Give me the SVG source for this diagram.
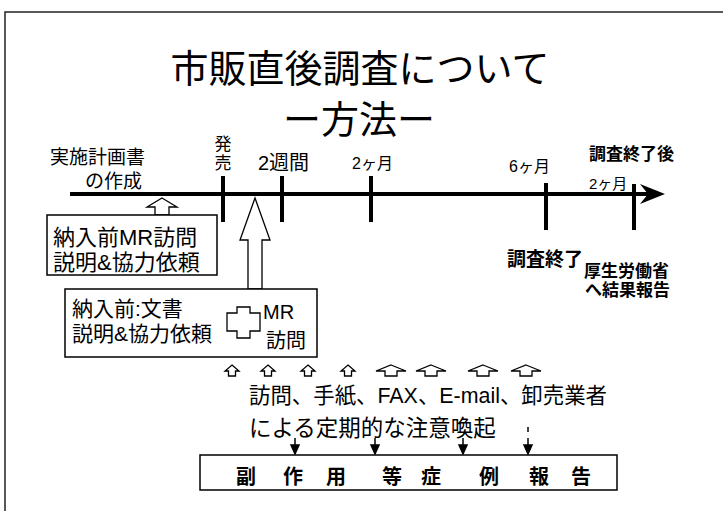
<svg xmlns="http://www.w3.org/2000/svg" width="723" height="511" viewBox="0 0 723 511">
<style>
text{font-family:"Liberation Sans","Noto Sans CJK JP",sans-serif;fill:#000}
.t{font-size:38px;text-anchor:middle}
.b{font-weight:bold}
.box{fill:#fff;stroke:#000;stroke-width:1.5}
.hol{fill:#fff;stroke:#000;stroke-width:1.3;stroke-linejoin:miter}
.tick{stroke:#000;stroke-width:4}
</style>
<defs>
<path id="ua" d="M0,0 L7,6 L3.5,6 L3.5,11 L-3.5,11 L-3.5,6 L-7,6 Z"/>
<path id="uaw" d="M0,0 L15,6 L6,6 L6,11 L-6,11 L-6,6 L-15,6 Z"/>
<path id="da" d="M0,0 L0,8 M-4,7 L4,7 L0,16 Z"/>
</defs>
<g id="frame" fill="none" stroke="#222" stroke-width="1.5">
<path d="M5,511 L5,12 L723,12"/>
</g>
<g id="title">
<text class="t" x="360" y="82">市販直後調査について</text>
<text class="t" x="359" y="133">ー方法ー</text>
</g>
<g id="timeline">
<line class="tick" x1="70" y1="194" x2="648" y2="194"/>
<path d="M665,194 L640,184 L648,194 L640,204 Z" fill="#000"/>
<line class="tick" x1="223" y1="176" x2="223" y2="222"/>
<line class="tick" x1="282" y1="176" x2="282" y2="222"/>
<line class="tick" x1="371" y1="176" x2="371" y2="222"/>
<line class="tick" x1="546" y1="183" x2="546" y2="230"/>
<line class="tick" x1="634" y1="184" x2="634" y2="230"/>
</g>
<g id="labels">
<text x="50" y="164" font-size="19">実施計画書</text>
<text x="85" y="188" font-size="19">の作成</text>
<text x="223" y="150" font-size="17" text-anchor="middle">発</text>
<text x="223" y="169" font-size="17" text-anchor="middle">売</text>
<text x="258" y="170" font-size="20">2週間</text>
<text x="352" y="169" font-size="16">2ヶ月</text>
<text x="509" y="172" font-size="16">6ヶ月</text>
<text x="589" y="160" font-size="17" class="b">調査終了後</text>
<text x="589" y="189" font-size="15">2ヶ月</text>
<text x="507" y="266" font-size="19" class="b">調査終了</text>
<text x="584" y="277" font-size="17" class="b">厚生労働省</text>
<text x="585" y="296" font-size="17" class="b">へ結果報告</text>
</g>
<g id="box1">
<path class="hol" d="M162,198 L177,207 L169,207 L169,215 L155,215 L155,207 L147,207 Z"/>
<rect class="box" x="47" y="215" width="170" height="60"/>
<text x="53" y="245" font-size="22">納入前MR訪問</text>
<text x="53" y="270" font-size="22">説明&amp;協力依頼</text>
</g>
<g id="bigarrow">
<path class="hol" d="M255,198 L270,240 L262,240 L262,289 L248,289 L248,240 L240,240 Z"/>
</g>
<g id="box2">
<rect class="box" x="65" y="289" width="252" height="68"/>
<text x="72" y="316" font-size="21">納入前:文書</text>
<text x="72" y="341" font-size="21">説明&amp;協力依頼</text>
<path class="hol" d="M237,307 L250,307 L250,313 L260,313 L260,331 L250,331 L250,338 L237,338 L237,331 L227,331 L227,313 L237,313 Z"/>
<text x="263" y="319" font-size="20">MR</text>
<text x="266" y="348" font-size="20">訪問</text>
</g>
<g id="uparrows" class="hol">
<use href="#ua" x="232" y="365"/>
<use href="#ua" x="268" y="365"/>
<use href="#ua" x="308" y="365"/>
<use href="#ua" x="348" y="365"/>
<use href="#uaw" x="391" y="365"/>
<use href="#uaw" x="431" y="365"/>
<use href="#uaw" x="483" y="365"/>
<use href="#uaw" x="526" y="365"/>
</g>
<g id="methods">
<text x="249" y="403" font-size="22" textLength="358" lengthAdjust="spacingAndGlyphs">訪問、手紙、FAX、E-mail、卸売業者</text>
<text x="249" y="436" font-size="22.5">による定期的な注意喚起</text>
</g>
<g id="connectors" stroke="#000" stroke-width="1.5" fill="#000">
<use href="#da" x="295" y="438"/>
<use href="#da" x="375" y="438"/>
<use href="#da" x="463" y="438"/>
<use href="#da" x="528" y="438"/>
<line x1="528" y1="427" x2="528" y2="432"/>
</g>
<g id="box3">
<rect class="box" x="200" y="455" width="417" height="35"/>
<g font-size="20" class="b" text-anchor="middle">
<text x="246" y="484" class="b">副</text>
<text x="293" y="484" class="b">作</text>
<text x="336" y="484" class="b">用</text>
<text x="392" y="484" class="b">等</text>
<text x="431" y="484" class="b">症</text>
<text x="489" y="484" class="b">例</text>
<text x="539" y="484" class="b">報</text>
<text x="581" y="484" class="b">告</text>
</g>
</g>
</svg>
